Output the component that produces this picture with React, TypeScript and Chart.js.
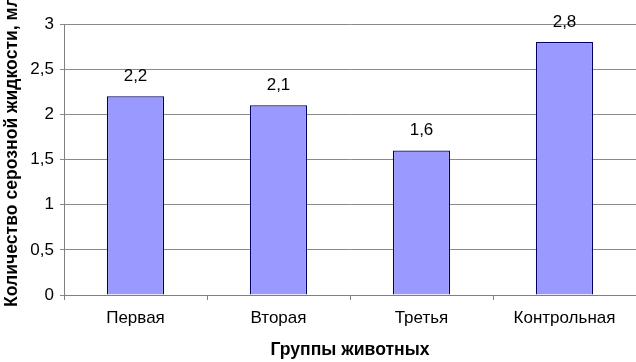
import { useEffect, useRef } from "react";
import { Chart, registerables } from "chart.js";

Chart.register(...registerables);

const categories = ["Первая", "Вторая", "Третья", "Контрольная"];
const values = [2.2, 2.1, 1.6, 2.8];
const yMin = 0;
const yMax = 3;
const yStep = 0.5;
const yTitle = "Количество серозной жидкости, мл";
const xTitle = "Группы животных";

const FONT = '"Liberation Sans", Arial, sans-serif';
const fmt = (v: number) => String(v).replace(".", ",");

const dataLabels = {
  id: "dataLabels",
  afterDatasetsDraw(chart: any) {
    const ctx = chart.ctx;
    const meta = chart.getDatasetMeta(0);
    ctx.save();
    ctx.font = `17px ${FONT}`;
    ctx.fillStyle = "#000";
    ctx.textAlign = "center";
    ctx.textBaseline = "middle";
    meta.data.forEach((bar: any, i: number) => {
      ctx.fillText(fmt(values[i]), bar.x, bar.y - 20);
    });
    ctx.restore();
  },
};

const yAxisTitle = {
  id: "yAxisTitle",
  afterDraw(chart: any) {
    const ctx = chart.ctx;
    const area = chart.chartArea;
    ctx.save();
    ctx.font = `bold 17.6px ${FONT}`;
    ctx.fillStyle = "#000";
    ctx.textAlign = "left";
    ctx.textBaseline = "middle";
    ctx.translate(12, area.bottom + 12);
    ctx.rotate(-Math.PI / 2);
    ctx.fillText(yTitle, 0, 0);
    ctx.restore();
  },
};

export default function App() {
  const ref = useRef<HTMLCanvasElement>(null);
  useEffect(() => {
    if (!ref.current) return;
    const chart = new Chart(ref.current, {
      type: "bar",
      data: {
        labels: categories,
        datasets: [
          {
            data: values,
            backgroundColor: "#9999FF",
            borderColor: "#000060",
            borderWidth: 1.3,
            categoryPercentage: 1,
            barPercentage: 0.4,
          },
        ],
      },
      options: {
        responsive: false,
        animation: false,
        layout: { padding: { top: 24, right: 0, left: 0, bottom: 0 } },
        plugins: {
          legend: { display: false },
          tooltip: { enabled: false },
        },
        scales: {
          x: {
            grid: {
              offset: true,
              drawOnChartArea: false,
              drawTicks: true,
              tickLength: 5,
              color: "#808080",
            },
            border: { color: "#808080" },
            ticks: {
              color: "#000",
              font: { family: FONT, size: 17 },
              padding: 8,
              maxRotation: 0,
            },
            title: {
              display: true,
              text: xTitle,
              color: "#000",
              font: { family: FONT, size: 17.6, weight: "bold" },
              padding: { top: 0, bottom: 1 },
            },
            afterFit(scale: any) {
              scale.height = 67;
            },
          },
          y: {
            min: yMin,
            max: yMax,
            grid: {
              color: "#8a8a8a",
              tickLength: 4,
            },
            border: { color: "#808080" },
            ticks: {
              stepSize: yStep,
              color: "#000",
              font: { family: FONT, size: 17 },
              padding: 6,
              callback: (v: any) => fmt(Number(v)),
            },
            afterFit(scale: any) {
              scale.width = 64;
            },
          },
        },
      },
      plugins: [dataLabels, yAxisTitle],
    });
    return () => chart.destroy();
  }, []);
  return (
    <div style={{ position: "absolute", left: 0, top: 0, width: 636, height: 362, background: "#fff" }}>
      <canvas ref={ref} width={636} height={362} />
    </div>
  );
}
